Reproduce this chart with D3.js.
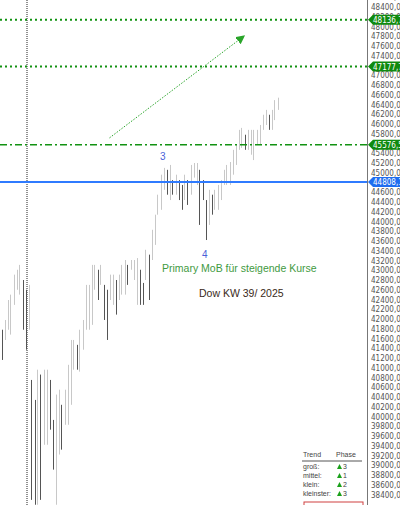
<!DOCTYPE html>
<html>
<head>
<meta charset="utf-8">
<script src="https://cdn.jsdelivr.net/npm/d3@7"></script>
<style>
  body { margin: 0; background: #fff; }
  svg { display: block; font-family: 'Liberation Sans', Arial, sans-serif; }
  .ax { font-family: 'Liberation Sans Narrow', 'DejaVu Sans Condensed', sans-serif; }
</style>
</head>
<body>
<svg id="chart" width="400" height="505"></svg>
<script>
// bar highs / lows (Dow, weekly view)
const highs = [41780,41980,42390,42500,42910,43010,43110,42800,42600,42700,
  40750,40340,40960,40860,40960,40960,40750,39930,40450,40550,
  40240,40550,41060,41570,41570,41470,41780,41980,42700,42700,
  43110,43110,43010,43110,42700,42600,42910,42910,42800,42910,
  43110,43210,43110,43210,43210,43250,43010,42740,43420,43320,
  43830,44140,44550,44960,45100,45060,45160,44850,44960,44850,
  44750,44960,44850,45160,45200,45200,45060,44850,44440,44650,
  44550,44650,44750,44850,45060,45160,45220,45470,45570,45880,
  45920,45780,45880,45880,45880,45880,45980,46190,46290,46190,
  46290,46490,46540]
const lows = [41160,41570,41780,41680,42290,42600,42500,41780,41370,41780,
  38290,38190,38190,38290,39420,39420,39730,38910,38190,39220,
  39320,39830,39830,40240,40960,40960,40920,41370,41780,41780,
  41880,42600,42390,42700,41980,41570,42390,42290,42090,42390,
  42500,42500,42700,43010,42800,42290,42290,42290,42800,42390,
  43210,43520,44140,44240,44650,44550,44440,44550,44550,44440,
  44240,44440,44340,44550,44900,44750,43930,44440,43620,43930,
  44140,44240,44240,44440,44750,44750,44750,44960,45160,45470,
  45510,45470,45470,45370,45260,45570,45570,45880,45980,45880,
  45880,46080,46290]

const levels = [
  { v: 48136.72, label: '48136,72', color: '#129212', dash: '2,3', w: 2 },
  { v: 47177.70, label: '47177,70', color: '#129212', dash: '2,3', w: 2 },
  { v: 45576.55, label: '45576,55', color: '#129212', dash: '7,3,2,3', w: 1.5 },
  { v: 44808.10, label: '44808,10', color: '#2f7bff', dash: null, w: 2 }
]
const trendRows = ['groß:', 'mittel:', 'klein:', 'kleinster:']
const trendPhase = [3, 1, 2, 3]
const arrowFrom = { i: 36, v: 45715 }
const arrowTo = { i: 80, v: 47765 }

const svg = d3.select('#chart')
const W = 400, H = 505, axisX = 367

const x = d3.scaleLinear().domain([0, highs.length - 1]).range([1.5, 277.5])
const y = d3.scaleLinear().domain([45200, 38400]).range([163, 494.5])

// vertical dotted line
svg.append('line').attr('x1', 27).attr('x2', 27).attr('y1', 0).attr('y2', H)
  .attr('stroke', '#222').attr('stroke-width', 1).attr('stroke-dasharray', '1,1')

// bars
svg.append('g').selectAll('line').data(highs).enter().append('line')
  .attr('x1', (d, i) => Math.round(x(i)) + 0.5)
  .attr('x2', (d, i) => Math.round(x(i)) + 0.5)
  .attr('y1', d => y(d))
  .attr('y2', (d, i) => y(lows[i]))
  .attr('stroke', (d, i) => (i > 0 && d >= highs[i - 1]) ? '#c8c8c8' : '#555')
  .attr('stroke-width', 1)

// levels
levels.forEach(l => {
  svg.append('line').attr('x1', 0).attr('x2', axisX).attr('y1', y(l.v)).attr('y2', y(l.v))
    .attr('stroke', l.color).attr('stroke-width', l.w)
    .attr('stroke-dasharray', l.dash)
})

// arrow
svg.append('defs').append('marker').attr('id', 'ah').attr('viewBox', '0 0 10 10')
  .attr('refX', 5).attr('refY', 5).attr('markerWidth', 9).attr('markerHeight', 9)
  .attr('orient', 'auto').append('path').attr('d', 'M0,0L10,5L0,10z').attr('fill', '#2aa52a')
svg.append('line')
  .attr('x1', x(arrowFrom.i)).attr('y1', y(arrowFrom.v))
  .attr('x2', x(arrowTo.i)).attr('y2', y(arrowTo.v))
  .attr('stroke', '#2aa52a').attr('stroke-width', 1).attr('stroke-dasharray', '1.5,1.5')
  .attr('marker-end', 'url(#ah)')

// right axis
svg.append('rect').attr('x', axisX).attr('y', 0).attr('width', W - axisX).attr('height', H).attr('fill', '#fff')
svg.append('line').attr('x1', axisX + 0.5).attr('x2', axisX + 0.5).attr('y1', 0).attr('y2', H)
  .attr('stroke', '#777')
const ticks = d3.range(38400, 48601, 200)
svg.append('g').attr('class', 'ax').selectAll('text').data(ticks).enter().append('text')
  .attr('x', axisX + 4).attr('y', d => y(d) + 3)
  .attr('font-size', 8).attr('fill', '#555')
  .text(d => d3.format('d')(d) + ',00')

// level tags
levels.forEach(l => {
  const g = svg.append('g').attr('class', 'ax').attr('transform', `translate(${axisX + 1},${y(l.v)})`)
  g.append('path').attr('d', 'M0,0L5,-5H40V5H5Z').attr('fill', l.color === '#2f7bff' ? '#1f6df0' : '#0f8a0f')
  g.append('text').attr('x', 5).attr('y', 3).attr('font-size', 8).attr('fill', '#fff').text(l.label)
})

// annotations
svg.append('text').attr('x', 160).attr('y', 160).attr('font-size', 10).attr('fill', '#4a5fd8').text('3')
svg.append('text').attr('x', 202).attr('y', 258).attr('font-size', 10).attr('fill', '#4a5fd8').text('4')
svg.append('text').attr('x', 162).attr('y', 272).attr('font-size', 10.5).attr('fill', '#3f9a3f')
  .text('Primary MoB für steigende Kurse')
svg.append('text').attr('x', 199).attr('y', 297).attr('font-size', 10.5).attr('fill', '#3a2a20')
  .text('Dow KW 39/ 2025')

// trend table
const tb = svg.append('g').attr('font-size', 7).attr('fill', '#444')
tb.append('text').attr('x', 303).attr('y', 457).text('Trend')
tb.append('text').attr('x', 336).attr('y', 457).text('Phase')
tb.append('line').attr('x1', 302).attr('x2', 362).attr('y1', 461).attr('y2', 461).attr('stroke', '#555')
trendRows.forEach((r, i) => {
  const yy = 469 + i * 9
  tb.append('text').attr('x', 303).attr('y', yy).text(r)
  tb.append('path').attr('d', `M${337},${yy}l2.5,-5l2.5,5z`).attr('fill', '#1aa01a')
  tb.append('text').attr('x', 343).attr('y', yy).text(trendPhase[i])
})
svg.append('rect').attr('x', 304).attr('y', 502).attr('width', 59).attr('height', 6)
  .attr('fill', '#fff').attr('stroke', '#d04040')
</script>
</body>
</html>
